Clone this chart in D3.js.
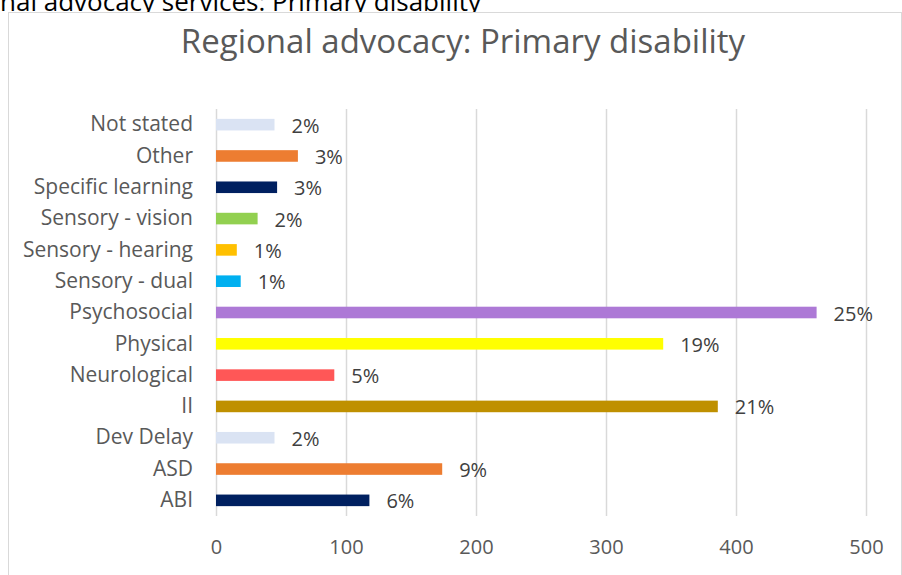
<!DOCTYPE html>
<html>
<head>
<meta charset="utf-8">
<script src="https://cdn.jsdelivr.net/npm/d3@7"></script>
<style>
  html, body { margin: 0; padding: 0; background: #fff; }
  svg { display: block; font-family: "Open Sans", "Noto Sans", sans-serif; }
</style>
</head>
<body>
<svg id="chart" width="902" height="575"></svg>
<script>
// Primary disability of people supported by regional advocacy (counts)
const categories = [
  "Not stated", "Other", "Specific learning", "Sensory - vision",
  "Sensory - hearing", "Sensory - dual", "Psychosocial", "Physical",
  "Neurological", "II", "Dev Delay", "ASD", "ABI"
];
const counts = [45, 63, 47, 32, 16, 19, 462, 344, 91, 386, 45, 174, 118];
const barColors = [
  "#dae3f3", "#ed7d31", "#002060", "#92d050",
  "#ffc000", "#00b0f0", "#ad79d6", "#ffff00",
  "#ff5757", "#bf9000", "#dae3f3", "#ed7d31", "#002060"
];
const xTicks = [0, 100, 200, 300, 400, 500];

const total = d3.sum(counts);
const rows = categories.map((c, i) => ({ name: c, value: counts[i], color: barColors[i] }));

const FONT = '"Open Sans", "Noto Sans", sans-serif';
const svg = d3.select("#chart");

// Caption line above the chart frame (runs off the left edge)
svg.append("text")
  .attr("x", 481).attr("y", 11)
  .attr("text-anchor", "end")
  .attr("font-size", 26).attr("fill", "#000")
  .text("Regional advocacy services: Primary disability");

// Chart frame
svg.append("rect")
  .attr("x", 8.5).attr("y", 12.5)
  .attr("width", 893).attr("height", 580)
  .attr("fill", "#fff").attr("stroke", "#d9d9d9");

// Chart title
svg.append("text")
  .attr("x", 463).attr("y", 53)
  .attr("text-anchor", "middle")
  .attr("font-size", 33).attr("fill", "#595959")
  .text("Regional advocacy: Primary disability");

const x = d3.scaleLinear().domain([0, 500]).range([216, 866]);
const y = d3.scaleBand().domain(categories).range([109, 516]).paddingInner(0.63).paddingOuter(0.315);

// Vertical gridlines and count ticks
const xAxis = d3.axisBottom(x).tickValues(xTicks).tickSize(-(516 - 109)).tickPadding(24);
const gx = svg.append("g").attr("transform", "translate(0,516)").call(xAxis);
gx.select(".domain").remove();
gx.selectAll(".tick line").attr("stroke", "#d9d9d9").attr("stroke-width", 1.5);
gx.selectAll(".tick text")
  .attr("font-size", 20).attr("fill", "#595959")
  .attr("font-family", FONT);

// Category labels
const yAxis = d3.axisLeft(y).tickSize(0).tickPadding(23);
const gy = svg.append("g").attr("transform", "translate(216,0)").call(yAxis);
gy.select(".domain").remove();
gy.selectAll(".tick text")
  .attr("font-size", 21).attr("fill", "#595959")
  .attr("font-family", FONT);

// Bars
svg.append("g").selectAll("rect")
  .data(rows).join("rect")
  .attr("x", x(0))
  .attr("y", d => y(d.name))
  .attr("width", d => x(d.value) - x(0))
  .attr("height", y.bandwidth())
  .attr("fill", d => d.color);

// Share of total at the end of each bar
svg.append("g").selectAll("text")
  .data(rows).join("text")
  .attr("x", d => x(d.value) + 17)
  .attr("y", d => y(d.name) + y.bandwidth() / 2 + 1)
  .attr("dy", "0.35em")
  .attr("font-size", 20).attr("fill", "#404040")
  .text(d => Math.round(d.value / total * 100) + "%");
</script>
</body>
</html>
